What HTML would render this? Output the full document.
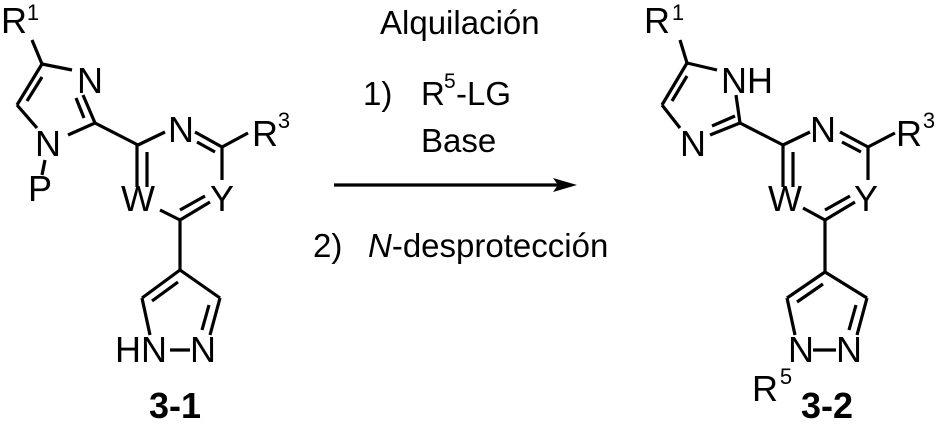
<!DOCTYPE html>
<html><head><meta charset="utf-8"><style>
html,body{margin:0;padding:0;background:#fff}
svg text{font-family:"Liberation Sans",Arial,sans-serif;font-size:36px;fill:#000}
svg text.s{font-size:22px}
svg text.b{font-weight:bold}
svg .m text{text-anchor:middle}
svg text.c{font-size:33px}
svg text.cs{font-size:21px}
</style></head>
<body>
<svg width="937" height="423" viewBox="0 0 937 423" xmlns="http://www.w3.org/2000/svg">
<g stroke="#000" stroke-width="3.2" fill="none">
<line x1="32" y1="40" x2="42" y2="64"/>
<line x1="42" y1="64" x2="72" y2="70"/>
<line x1="42" y1="64" x2="17" y2="105"/>
<line x1="42" y1="77" x2="27" y2="101"/>
<line x1="17" y1="105" x2="37" y2="128"/>
<line x1="68" y1="135" x2="95" y2="123"/>
<line x1="83" y1="95" x2="95" y2="123"/>
<line x1="76" y1="98" x2="84" y2="118"/>
<line x1="45" y1="160" x2="42" y2="175"/>
<line x1="95" y1="123" x2="138" y2="145"/>
<line x1="138" y1="145" x2="165" y2="132"/>
<line x1="195" y1="132" x2="222" y2="147"/>
<line x1="197" y1="142" x2="215" y2="152"/>
<line x1="222" y1="147" x2="248" y2="133"/>
<line x1="222" y1="147" x2="222" y2="180"/>
<line x1="137" y1="145" x2="137" y2="187"/>
<line x1="147" y1="152" x2="147" y2="187"/>
<line x1="160" y1="210" x2="180" y2="220"/>
<line x1="180" y1="220" x2="210" y2="202"/>
<line x1="180" y1="210" x2="205" y2="196"/>
<line x1="180" y1="220" x2="180" y2="270"/>
<line x1="180" y1="270" x2="142" y2="298"/>
<line x1="178" y1="282" x2="152" y2="301"/>
<line x1="180" y1="270" x2="220" y2="298"/>
<line x1="142" y1="298" x2="150" y2="335"/>
<line x1="220" y1="298" x2="210" y2="335"/>
<line x1="209" y1="305" x2="202" y2="330"/>
<line x1="170" y1="350" x2="190" y2="350"/>
<line x1="680" y1="40" x2="687" y2="63"/>
<line x1="687" y1="63" x2="717" y2="70"/>
<line x1="687" y1="63" x2="662" y2="105"/>
<line x1="687" y1="76" x2="672" y2="101"/>
<line x1="662" y1="105" x2="680" y2="128"/>
<line x1="710" y1="135" x2="740" y2="123"/>
<line x1="712" y1="126" x2="735" y2="116"/>
<line x1="736" y1="95" x2="740" y2="123"/>
<line x1="740" y1="123" x2="783" y2="145"/>
<line x1="783" y1="145" x2="810" y2="132"/>
<line x1="840" y1="132" x2="868" y2="147"/>
<line x1="842" y1="142" x2="861" y2="152"/>
<line x1="868" y1="147" x2="895" y2="133"/>
<line x1="868" y1="147" x2="868" y2="180"/>
<line x1="783" y1="145" x2="783" y2="187"/>
<line x1="793" y1="152" x2="793" y2="187"/>
<line x1="803" y1="208" x2="825" y2="220"/>
<line x1="825" y1="220" x2="855" y2="202"/>
<line x1="825" y1="210" x2="850" y2="196"/>
<line x1="825" y1="220" x2="825" y2="272"/>
<line x1="825" y1="272" x2="787" y2="298"/>
<line x1="823" y1="284" x2="797" y2="302"/>
<line x1="825" y1="272" x2="867" y2="298"/>
<line x1="787" y1="298" x2="795" y2="335"/>
<line x1="867" y1="298" x2="857" y2="335"/>
<line x1="856" y1="305" x2="849" y2="330"/>
<line x1="813" y1="350" x2="836" y2="350"/>
<line x1="334" y1="185" x2="560" y2="185"/>
</g>
<polygon points="577,185 553,178 558,185 553,192" fill="#000"/>
<g class="m">
<text x="14" y="33">R</text><text class="s" x="33" y="20">1</text>
<text x="90" y="93">N</text>
<text x="48" y="156">N</text>
<text x="40" y="201">P</text>
<text x="181" y="142">N</text>
<text x="265" y="146">R</text><text class="s" x="284" y="128">3</text>
<text x="138" y="211">W</text>
<text x="222" y="211">Y</text>
<text x="141" y="362">HN</text>
<text x="203" y="362">N</text>
<text class="b" x="175" y="418">3-1</text>
<text x="657" y="33">R</text><text class="s" x="678" y="20">1</text>
<text x="747" y="93">NH</text>
<text x="693" y="156">N</text>
<text x="823" y="142">N</text>
<text x="909" y="146">R</text><text class="s" x="929" y="128">3</text>
<text x="785" y="211">W</text>
<text x="866" y="211">Y</text>
<text x="801" y="362">N</text>
<text x="849" y="362">N</text>
<text x="765" y="401">R</text><text class="s" x="786" y="384">5</text>
<text class="b" x="827" y="418">3-2</text>
</g>
<text class="c" x="380" y="34">Alquilación</text>
<text class="c" x="363" y="105">1)</text><text class="c" x="421" y="105">R</text><text class="cs" x="444" y="88">5</text><text class="c" x="456" y="105">-LG</text>
<text class="c" x="421" y="152">Base</text>
<text class="c" x="313" y="257">2)</text><text class="c" x="368" y="257"><tspan font-style="italic">N</tspan>-desprotección</text>
</svg>
</body></html>
